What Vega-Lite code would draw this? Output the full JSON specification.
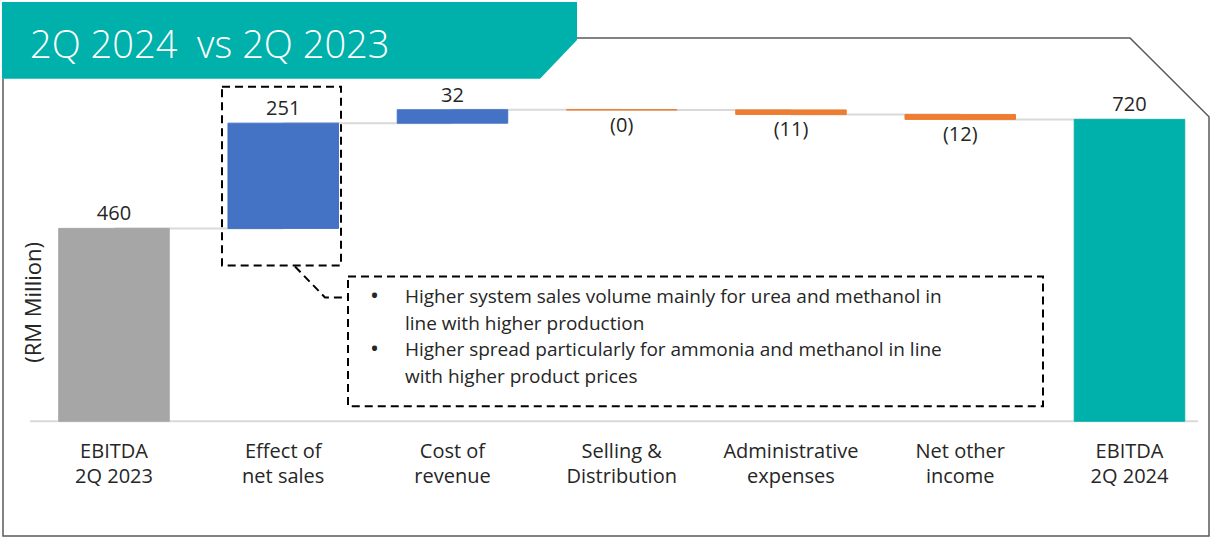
{
  "$schema": "https://vega.github.io/schema/vega-lite/v6.json",
  "width": 1212,
  "height": 539,
  "autosize": {"type": "fit", "contains": "padding"},
  "padding": 0,
  "background": "white",
  "config": {"view": {"stroke": null}, "font": "Open Sans"},
  "datasets": {
    "wf": [
      {"cat": "EBITDA\n2Q 2023", "start": 0, "end": 460, "label": "460", "kind": "total"},
      {"cat": "Effect of\nnet sales", "start": 460, "end": 711, "label": "251", "kind": "up"},
      {"cat": "Cost of\nrevenue", "start": 711, "end": 743, "label": "32", "kind": "up"},
      {"cat": "Selling &\nDistribution", "start": 743, "end": 742.6, "label": "(0)", "kind": "down"},
      {"cat": "Administrative\nexpenses", "start": 742.6, "end": 731.8, "label": "(11)", "kind": "down"},
      {"cat": "Net other\nincome", "start": 731.8, "end": 720, "label": "(12)", "kind": "down"},
      {"cat": "EBITDA\n2Q 2024", "start": 0, "end": 720, "label": "720", "kind": "final"}
    ],
    "conn": [
      {"from": "EBITDA\n2Q 2023", "to": "Effect of\nnet sales", "lvl": 460},
      {"from": "Effect of\nnet sales", "to": "Cost of\nrevenue", "lvl": 711},
      {"from": "Cost of\nrevenue", "to": "Selling &\nDistribution", "lvl": 743},
      {"from": "Selling &\nDistribution", "to": "Administrative\nexpenses", "lvl": 742.6},
      {"from": "Administrative\nexpenses", "to": "Net other\nincome", "lvl": 731.8},
      {"from": "Net other\nincome", "to": "EBITDA\n2Q 2024", "lvl": 720}
    ],
    "frame": [
      {"px": 577, "py": 38, "o": 1},
      {"px": 1130, "py": 38, "o": 2},
      {"px": 1209, "py": 117, "o": 3},
      {"px": 1209, "py": 537, "o": 4},
      {"px": 3, "py": 537, "o": 5},
      {"px": 3, "py": 79, "o": 6}
    ],
    "banner": [
      {"px": 2, "py": 2, "py2": 79},
      {"px": 540, "py": 2, "py2": 79},
      {"px": 577, "py": 2, "py2": 40}
    ],
    "boxes": [
      {"x1": 222, "x2": 341, "y1": 87, "y2": 266},
      {"x1": 348, "x2": 1043, "y1": 277, "y2": 407}
    ],
    "leader": [
      {"px": 295, "py": 267, "o": 1},
      {"px": 325, "py": 298, "o": 2},
      {"px": 348, "py": 298, "o": 3}
    ],
    "baseline": [
      {"px": 30, "py": 422, "o": 1},
      {"px": 1198, "py": 422, "o": 2}
    ],
    "bullets": [
      {"px": 370, "py": 298},
      {"px": 370, "py": 351}
    ],
    "notes": [
      {"px": 405, "py": 298, "t": "Higher system sales volume mainly for urea and methanol in"},
      {"px": 405, "py": 324.5, "t": "line with higher production"},
      {"px": 405, "py": 351, "t": "Higher spread particularly for ammonia and methanol in line"},
      {"px": 405, "py": 377.5, "t": "with higher product prices"}
    ],
    "heading": [{"px": 30, "py": 58, "t": "2Q 2024\u00a0 vs 2Q 2023"}],
    "ytitle": [{"px": 34, "py": 303, "t": "(RM Million)"}]
  },
  "layer": [
    {
      "layer": [
        {
          "data": {"name": "banner"},
          "mark": {"type": "area", "color": "#00b0aa", "orient": "vertical"},
          "encoding": {
            "x": {"field": "px", "type": "quantitative", "scale": {"domain": [0, 1212], "nice": false, "zero": false}, "axis": null},
            "y": {"field": "py", "type": "quantitative", "scale": {"domain": [0, 539], "nice": false, "zero": false, "reverse": true}, "axis": null},
            "y2": {"field": "py2"}
          }
        },
        {
          "data": {"name": "heading"},
          "mark": {"type": "text", "align": "left", "baseline": "alphabetic", "fontSize": 38, "fontWeight": 300, "color": "white"},
          "encoding": {
            "x": {"field": "px", "type": "quantitative"},
            "y": {"field": "py", "type": "quantitative"},
            "text": {"field": "t"}
          }
        },
        {
          "data": {"name": "frame"},
          "mark": {"type": "line", "color": "#595959", "strokeWidth": 1.5},
          "encoding": {
            "x": {"field": "px", "type": "quantitative"},
            "y": {"field": "py", "type": "quantitative"},
            "order": {"field": "o"}
          }
        },
        {
          "data": {"name": "baseline"},
          "mark": {"type": "line", "color": "#d9d9d9", "strokeWidth": 2},
          "encoding": {
            "x": {"field": "px", "type": "quantitative"},
            "y": {"field": "py", "type": "quantitative"},
            "order": {"field": "o"}
          }
        },
        {
          "data": {"name": "ytitle"},
          "mark": {"type": "text", "angle": 270, "align": "center", "baseline": "middle", "fontSize": 22, "color": "#262626"},
          "encoding": {
            "x": {"field": "px", "type": "quantitative"},
            "y": {"field": "py", "type": "quantitative"},
            "text": {"field": "t"}
          }
        },
        {
          "data": {"name": "boxes"},
          "mark": {"type": "rect", "filled": false, "stroke": "black", "strokeWidth": 2, "strokeDash": [8, 5]},
          "encoding": {
            "x": {"field": "x1", "type": "quantitative"},
            "x2": {"field": "x2"},
            "y": {"field": "y1", "type": "quantitative"},
            "y2": {"field": "y2"}
          }
        },
        {
          "data": {"name": "leader"},
          "mark": {"type": "line", "color": "black", "strokeWidth": 2, "strokeDash": [8, 5]},
          "encoding": {
            "x": {"field": "px", "type": "quantitative"},
            "y": {"field": "py", "type": "quantitative"},
            "order": {"field": "o"}
          }
        },
        {
          "data": {"name": "bullets"},
          "mark": {"type": "text", "align": "left", "baseline": "middle", "fontSize": 24, "color": "#262626", "text": "•"},
          "encoding": {
            "x": {"field": "px", "type": "quantitative"},
            "y": {"field": "py", "type": "quantitative"}
          }
        },
        {
          "data": {"name": "notes"},
          "mark": {"type": "text", "align": "left", "baseline": "middle", "fontSize": 19, "color": "#262626"},
          "encoding": {
            "x": {"field": "px", "type": "quantitative"},
            "y": {"field": "py", "type": "quantitative"},
            "text": {"field": "t"}
          }
        }
      ]
    },
    {
      "layer": [
        {
          "data": {"name": "conn"},
          "mark": {"type": "rule", "color": "#d9d9d9", "strokeWidth": 2},
          "encoding": {
            "x": {"field": "from", "type": "nominal", "scale": {"domain": ["EBITDA\n2Q 2023", "Effect of\nnet sales", "Cost of\nrevenue", "Selling &\nDistribution", "Administrative\nexpenses", "Net other\nincome", "EBITDA\n2Q 2024"], "paddingInner": 0.347, "paddingOuter": 0.254, "align": 0.683}, "axis": null},
            "x2": {"field": "to"},
            "y": {"field": "lvl", "type": "quantitative", "scale": {"domain": [-278.6, 1004.8], "nice": false, "zero": false}, "axis": null}
          }
        },
        {
          "data": {"name": "wf"},
          "mark": {"type": "bar", "strokeWidth": 1},
          "encoding": {
            "x": {"field": "cat", "type": "nominal"},
            "y": {"field": "start", "type": "quantitative"},
            "y2": {"field": "end"},
            "color": {"field": "kind", "type": "nominal", "scale": {"domain": ["total", "up", "down", "final"], "range": ["#a6a6a6", "#4472c4", "#ed7d31", "#00b0aa"]}, "legend": null},
            "stroke": {"field": "kind", "type": "nominal", "scale": {"domain": ["total", "up", "down", "final"], "range": ["#a6a6a6", "#4472c4", "#ed7d31", "#00b0aa"]}, "legend": null}
          }
        },
        {
          "data": {"name": "wf"},
          "transform": [{"filter": "datum.kind !== 'down'"}],
          "mark": {"type": "text", "baseline": "bottom", "dy": -4, "fontSize": 20, "color": "#262626"},
          "encoding": {
            "x": {"field": "cat", "type": "nominal"},
            "y": {"field": "end", "type": "quantitative"},
            "text": {"field": "label"}
          }
        },
        {
          "data": {"name": "wf"},
          "transform": [{"filter": "datum.kind === 'down'"}],
          "mark": {"type": "text", "baseline": "top", "dy": 6, "fontSize": 20, "color": "#262626"},
          "encoding": {
            "x": {"field": "cat", "type": "nominal"},
            "y": {"field": "end", "type": "quantitative"},
            "text": {"field": "label"}
          }
        },
        {
          "data": {"name": "wf"},
          "mark": {"type": "text", "baseline": "top", "dy": 21, "fontSize": 20, "lineHeight": 25, "lineBreak": "\n", "color": "#262626"},
          "encoding": {
            "x": {"field": "cat", "type": "nominal"},
            "y": {"datum": 0, "type": "quantitative"},
            "text": {"field": "cat"}
          }
        }
      ]
    }
  ],
  "resolve": {"scale": {"x": "independent", "y": "independent"}}
}
